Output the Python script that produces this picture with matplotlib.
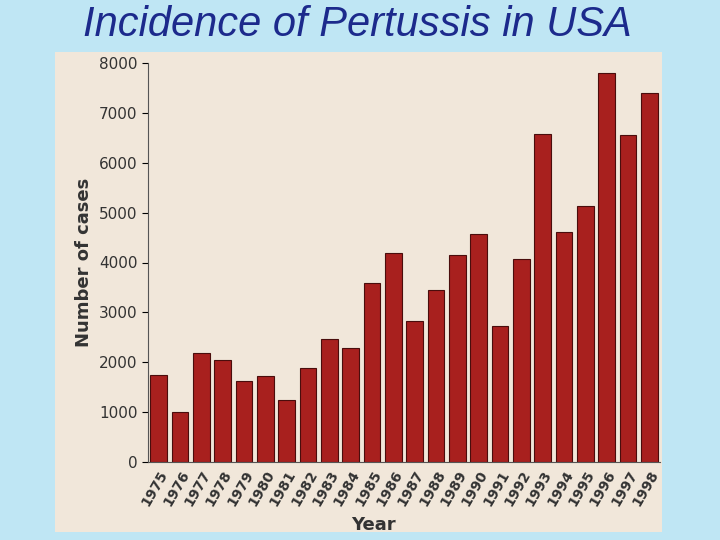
import matplotlib.pyplot as plt

years = [str(y) for y in range(1975, 1999)]
cases = [1750, 1000, 2180, 2050, 1620, 1730, 1250, 1880, 2460, 2280, 3580, 4190,
         2820, 3440, 4150, 4570, 2720, 4070, 6570, 4610, 5130, 7790, 6560, 7400]

fig = plt.figure(figsize=(7.2, 5.4), dpi=100)
fig.patch.set_facecolor('#bfe6f4')

# beige inner panel
panel = fig.add_axes([55 / 720, 8 / 540, 607 / 720, 480 / 540], zorder=0)
panel.set_axis_off()
panel.add_patch(plt.Rectangle((0, 0), 1, 1, transform=panel.transAxes,
                              facecolor='#f1e7da', edgecolor='none'))

fig.text(0.497, 0.99, 'Incidence of Pertussis in USA', ha='center', va='top',
         fontsize=30, style='italic', color='#1c2a8c', family='Liberation Sans')

ax = fig.add_axes([148 / 720, 78 / 540, 512 / 720, 399 / 540], zorder=1)
ax.set_facecolor('none')
ax.bar(range(len(years)), cases, width=0.78, color='#a8201e',
       edgecolor='#4a0d0c', linewidth=0.8)
ax.set_xlim(-0.5, len(years) - 0.5)
ax.set_ylim(0, 8000)
ax.set_yticks(range(0, 8001, 1000))
ax.set_yticklabels([str(v) for v in range(0, 8001, 1000)], fontsize=11, color='#333333')
ax.set_xticks(range(len(years)))
ax.set_xticklabels(years, rotation=60, fontsize=10, fontweight='bold',
                   color='#333333', ha='right', rotation_mode='anchor')
ax.tick_params(axis='x', length=0, pad=4)
ax.tick_params(axis='y', length=4, direction='out')
for s in ['top', 'right']:
    ax.spines[s].set_visible(False)
ax.spines['left'].set_color('#555555')
ax.spines['bottom'].set_color('#555555')
ax.set_ylabel('Number of cases', fontsize=13, fontweight='bold', color='#333333')
fig.text(373 / 720, 15 / 540, 'Year', ha='center', va='center', fontsize=13,
         fontweight='bold', color='#333333')

fig.savefig('out.png', dpi=100)
